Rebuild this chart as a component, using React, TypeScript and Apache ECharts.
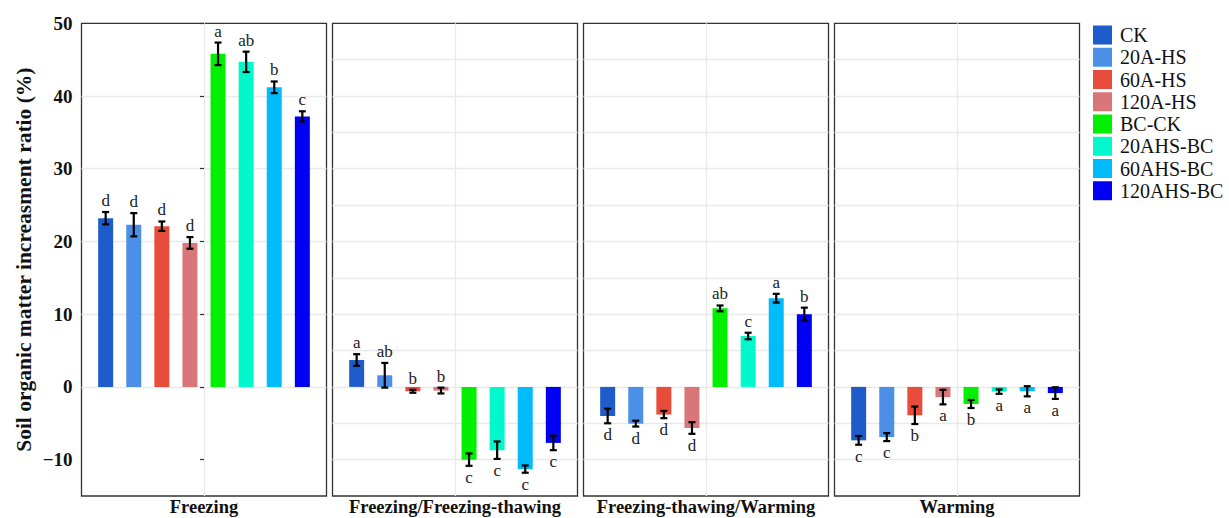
import React, { useEffect, useRef } from "react";
import * as echarts from "echarts";

// ---------- data ----------
const treatments = ["CK", "20A-HS", "60A-HS", "120A-HS", "BC-CK", "20AHS-BC", "60AHS-BC", "120AHS-BC"];
const periods = ["Freezing", "Freezing/Freezing-thawing", "Freezing-thawing/Warming", "Warming"];

const freezingMean = [23.2, 22.3, 22.1, 19.8, 45.8, 44.7, 41.2, 37.2];
const freezingSE = [0.85, 1.6, 0.65, 0.8, 1.55, 1.4, 0.8, 0.7];
const freezingLetters = ["d", "d", "d", "d", "a", "ab", "b", "c"];

const ffMean = [3.7, 1.6, -0.6, -0.5, -10.0, -8.7, -11.3, -7.7];
const ffSE = [0.8, 1.7, 0.2, 0.4, 0.85, 1.2, 0.5, 1.0];
const ffLetters = ["a", "ab", "b", "b", "c", "c", "c", "c"];

const fwMean = [-4.0, -5.05, -3.8, -5.65, 10.8, 7.0, 12.2, 10.0];
const fwSE = [1.0, 0.4, 0.5, 0.8, 0.4, 0.45, 0.6, 0.9];
const fwLetters = ["d", "d", "d", "d", "ab", "c", "a", "b"];

const warmMean = [-7.35, -6.9, -3.9, -1.4, -2.35, -0.65, -0.6, -0.85];
const warmSE = [0.6, 0.55, 1.2, 1.0, 0.55, 0.3, 0.7, 0.8];
const warmLetters = ["c", "c", "b", "a", "b", "a", "a", "a"];

// +1 letter above the error bar, -1 below
const freezingSide = [1, 1, 1, 1, 1, 1, 1, 1];
const ffSide = [1, 1, 1, 1, -1, -1, -1, -1];
const fwSide = [-1, -1, -1, -1, 1, 1, 1, 1];
const warmSide = [-1, -1, -1, -1, -1, -1, -1, -1];

const yTicks = [-10, 0, 10, 20, 30, 40, 50];

const means = [freezingMean, ffMean, fwMean, warmMean];
const ses = [freezingSE, ffSE, fwSE, warmSE];
const letters = [freezingLetters, ffLetters, fwLetters, warmLetters];
const sides = [freezingSide, ffSide, fwSide, warmSide];

// ---------- style ----------
const colors = ["#1f5ccb", "#4b90e6", "#e84c3a", "#d9767a", "#00f000", "#00f8cc", "#00bcfb", "#0000f5"];
const FONT = "'Liberation Serif', 'Times New Roman', serif";
const gridLeft = [81.5, 332.5, 583.5, 834.5];
const gridW = 245;
const gridTop = 23.3;
const gridH = 472.7;
const half = 4.36;

export default function App() {
  const ref = useRef<HTMLDivElement>(null);
  useEffect(() => {
    if (!ref.current) return;
    const chart = echarts.init(ref.current, null, { renderer: "svg" });

    const grids = gridLeft.map((l) => ({
      left: l,
      top: gridTop,
      width: gridW,
      height: gridH,
      show: true,
      borderColor: "#333",
      borderWidth: 1.3,
      backgroundColor: "transparent",
      containLabel: false,
      outerBoundsMode: "none",
    }));

    const xAxes = periods.map((p, g) => ({
      type: "value",
      gridIndex: g,
      min: -half,
      max: half,
      interval: half,
      axisLine: { show: false },
      axisTick: { show: false },
      axisLabel: { show: false },
      splitLine: { show: true, showMinLine: false, showMaxLine: false, lineStyle: { color: "#e9e9e9", width: 1.3 } },
      name: p,
      nameLocation: "middle",
      nameGap: 1,
      nameTextStyle: { fontFamily: FONT, fontWeight: "bold", fontSize: 18.5, color: "#111", verticalAlign: "top" },
    }));

    const yAxes = periods.map((p, g) => ({
      type: "value",
      gridIndex: g,
      min: -15,
      max: 50,
      interval: 5,
      axisLine: { show: false },
      axisTick: g === 0 ? { show: true, customValues: yTicks, length: 4, lineStyle: { color: "#333", width: 1.2 } } : { show: false },
      axisLabel:
        g === 0
          ? {
              show: true,
              customValues: yTicks,
              margin: 9,
              fontFamily: FONT,
              fontWeight: "bold",
              fontSize: 19,
              color: "#111",
              formatter: (v: number) => (v < 0 ? "\u2212" + Math.abs(v) : String(v)),
            }
          : { show: false },
      splitLine: { show: true, showMinLine: false, showMaxLine: false, lineStyle: { color: "#e9e9e9", width: 1.3 } },
      name: g === 0 ? "Soil organic matter increasment ratio (%)" : "",
      nameLocation: "middle",
      nameGap: 47,
      nameRotate: 90,
      nameTextStyle: { fontFamily: FONT, fontWeight: "bold", fontSize: 21.5, color: "#111" },
    }));

    const series: any[] = [];
    periods.forEach((p, g) => {
      treatments.forEach((t, s) => {
        series.push({
          type: "bar",
          name: t,
          xAxisIndex: g,
          yAxisIndex: g,
          barWidth: 15,
          barGap: "-100%",
          itemStyle: { color: colors[s] },
          data: [[s - 3.5, means[g][s]]],
          z: 2,
        });
      });
      series.push({
        type: "custom",
        xAxisIndex: g,
        yAxisIndex: g,
        z: 5,
        data: means[g].map((m, s) => [s - 3.5, m, ses[g][s]]),
        encode: { x: 0, y: 1 },
        renderItem: (params: any, api: any) => {
          const x = api.value(0);
          const m = api.value(1);
          const se = api.value(2);
          const top = api.coord([x, m + se]);
          const bot = api.coord([x, m - se]);
          const i = params.dataIndex;
          const above = sides[g][i] > 0;
          const cap = 3.5;
          const st = { stroke: "#000", lineWidth: 2.2 };
          return {
            type: "group",
            children: [
              { type: "line", shape: { x1: top[0], y1: top[1], x2: bot[0], y2: bot[1] }, style: st },
              { type: "line", shape: { x1: top[0] - cap, y1: top[1], x2: top[0] + cap, y2: top[1] }, style: st },
              { type: "line", shape: { x1: bot[0] - cap, y1: bot[1], x2: bot[0] + cap, y2: bot[1] }, style: st },
              {
                type: "text",
                x: top[0],
                y: above ? top[1] - 3 : bot[1] + 3,
                style: {
                  text: letters[g][i],
                  fontFamily: FONT,
                  fontSize: 17,
                  fill: "#222",
                  textAlign: "center",
                  textVerticalAlign: above ? "bottom" : "top",
                },
              },
            ],
          };
        },
      });
    });

    chart.setOption({
      animation: false,
      backgroundColor: "#fff",
      grid: grids,
      xAxis: xAxes,
      yAxis: yAxes,
      legend: {
        data: treatments,
        orient: "vertical",
        left: 1093,
        top: 25,
        padding: 0,
        itemWidth: 19,
        itemHeight: 19,
        itemGap: 2.25,
        icon: "rect",
        itemStyle: { borderWidth: 0 },
        selectedMode: false,
        textStyle: { fontFamily: FONT, fontSize: 20, lineHeight: 19, color: "#111", padding: [0, 0, 0, 3] },
      },
      series,
    });
    return () => chart.dispose();
  }, []);
  return <div ref={ref} style={{ position: "fixed", left: 0, top: 0, width: 1229, height: 518 }} />;
}
